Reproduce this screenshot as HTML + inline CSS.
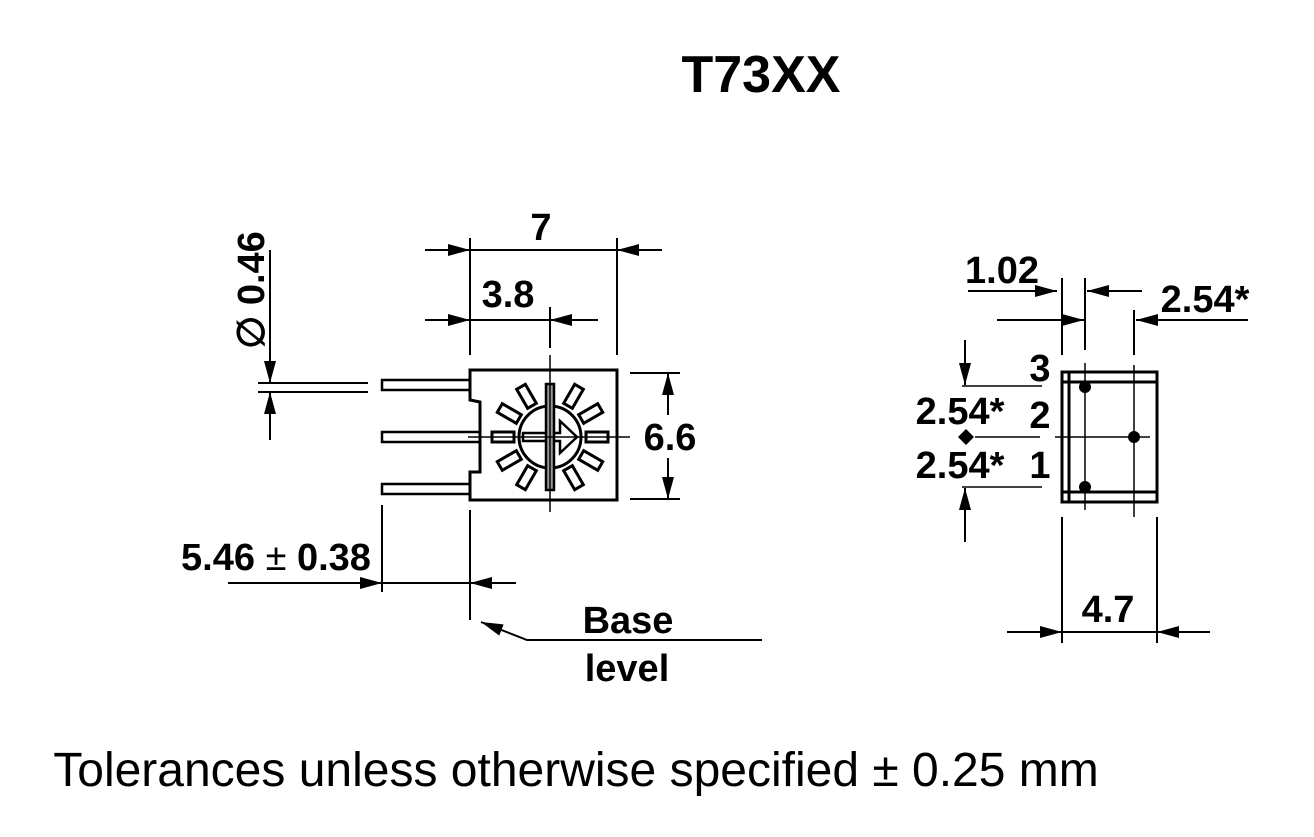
<!DOCTYPE html>
<html><head><meta charset="utf-8"><style>
html,body{margin:0;padding:0;background:#fff;}
svg{display:block;}
text{font-family:"Liberation Sans",Arial,sans-serif;fill:#000;}
.b{font-weight:bold;}
</style></head><body>
<svg width="1314" height="837" viewBox="0 0 1314 837" xmlns="http://www.w3.org/2000/svg">
<defs>
<marker id="A" viewBox="0 0 22 12" refX="22" refY="6" markerWidth="22" markerHeight="12" markerUnits="userSpaceOnUse" orient="auto"><path d="M0,0 L22,6 L0,12 z" fill="#000"/></marker>
</defs>
<text x="761" y="92" class="b" font-size="52" text-anchor="middle">T73XX</text>

<g stroke="#000" stroke-width="2" fill="none">
<line x1="470" y1="238" x2="470" y2="355"/>
<line x1="617" y1="238" x2="617" y2="355"/>
<line x1="425" y1="250" x2="470" y2="250" marker-end="url(#A)"/>
<line x1="470" y1="250" x2="617" y2="250"/>
<line x1="662" y1="250" x2="617" y2="250" marker-end="url(#A)"/>
<line x1="550" y1="307" x2="550" y2="348"/>
<line x1="425" y1="320" x2="470" y2="320" marker-end="url(#A)"/>
<line x1="470" y1="320" x2="550" y2="320"/>
<line x1="598" y1="320" x2="550" y2="320" marker-end="url(#A)"/>
<rect x="382" y="380" width="88" height="10" stroke-width="2.5"/>
<rect x="382" y="432" width="98" height="10" stroke-width="2.5"/>
<rect x="382" y="484" width="88" height="10" stroke-width="2.5"/>
<path d="M470,370 L617,370 L617,500 L470,500 L470,472 L480,472 L480,402 L470,400 Z" stroke-width="3" fill="#fff"/>
<line x1="258" y1="383" x2="368" y2="383"/>
<line x1="258" y1="392" x2="368" y2="392"/>
<line x1="270" y1="250" x2="270" y2="383" marker-end="url(#A)"/>
<line x1="270" y1="440" x2="270" y2="392" marker-end="url(#A)"/>
<line x1="630" y1="373" x2="680" y2="373"/>
<line x1="630" y1="499" x2="680" y2="499"/>
<line x1="668" y1="415" x2="668" y2="373" marker-end="url(#A)"/>
<line x1="668" y1="458" x2="668" y2="499" marker-end="url(#A)"/>
<line x1="382" y1="505" x2="382" y2="592"/>
<line x1="470" y1="510" x2="470" y2="620"/>
<line x1="228" y1="583" x2="382" y2="583" marker-end="url(#A)"/>
<line x1="382" y1="583" x2="470" y2="583"/>
<line x1="516" y1="583" x2="470" y2="583" marker-end="url(#A)"/>
<polyline points="762,640 527,640 481,622" marker-end="url(#A)"/>
</g>
<g stroke="#000" stroke-width="3" fill="#fff">
<g transform="translate(550,437)">
<rect x="36" y="-5" width="22" height="10" transform="rotate(0)"/>
<rect x="36" y="-5" width="22" height="10" transform="rotate(30)"/>
<rect x="36" y="-5" width="22" height="10" transform="rotate(60)"/>
<rect x="36" y="-5" width="22" height="10" transform="rotate(120)"/>
<rect x="36" y="-5" width="22" height="10" transform="rotate(150)"/>
<rect x="36" y="-5" width="22" height="10" transform="rotate(180)"/>
<rect x="36" y="-5" width="22" height="10" transform="rotate(210)"/>
<rect x="36" y="-5" width="22" height="10" transform="rotate(240)"/>
<rect x="36" y="-5" width="22" height="10" transform="rotate(300)"/>
<rect x="36" y="-5" width="22" height="10" transform="rotate(330)"/>
<circle r="31"/>
<path d="M-27,-4 L10,-4 L10,-16 L27,0 L10,16 L10,4 L-27,4 Z" stroke-width="2.5"/>
<rect x="-4" y="-53" width="8" height="106" fill="#999" stroke-width="2.5"/>
</g>
</g>
<g stroke="#000" stroke-width="1.5">
<line x1="550" y1="355" x2="550" y2="512"/>
<line x1="468" y1="437" x2="630" y2="437"/>
</g>

<text x="541" y="240" class="b" font-size="38" text-anchor="middle">7</text>
<text x="508" y="307" class="b" font-size="38" text-anchor="middle">3.8</text>
<text x="670" y="450" class="b" font-size="38" text-anchor="middle">6.6</text>
<text transform="translate(264,290) rotate(-90)" class="b" font-size="38" text-anchor="middle">∅ 0.46</text>
<text x="276" y="570" class="b" font-size="38" text-anchor="middle">5.46 <tspan font-weight="normal">±</tspan> 0.38</text>
<text x="628" y="633" class="b" font-size="38" text-anchor="middle">Base</text>
<text x="627" y="681" class="b" font-size="38" text-anchor="middle">level</text>

<g stroke="#000" stroke-width="2" fill="none">
<line x1="1062" y1="278" x2="1062" y2="355"/>
<line x1="1085" y1="278" x2="1085" y2="350"/>
<line x1="1134" y1="310" x2="1134" y2="355"/>
<line x1="968" y1="291" x2="1057" y2="291" marker-end="url(#A)"/>
<line x1="1142" y1="291" x2="1087" y2="291" marker-end="url(#A)"/>
<line x1="997" y1="320" x2="1084" y2="320" marker-end="url(#A)"/>
<line x1="1248" y1="320" x2="1136" y2="320" marker-end="url(#A)"/>
<rect x="1062" y="372" width="95" height="130" stroke-width="3"/>
<line x1="1062" y1="382" x2="1157" y2="382" stroke-width="3"/>
<line x1="1062" y1="492" x2="1157" y2="492" stroke-width="3"/>
<line x1="1069" y1="372" x2="1069" y2="502" stroke-width="3"/>
<line x1="1085" y1="363" x2="1085" y2="510" stroke-width="1.5"/>
<line x1="1134" y1="365" x2="1134" y2="517" stroke-width="1.5"/>
<line x1="1055" y1="437" x2="1150" y2="437" stroke-width="1.5"/>
<line x1="962" y1="386" x2="1042" y2="386" stroke-width="1.5"/>
<line x1="962" y1="487" x2="1042" y2="487" stroke-width="1.5"/>
<line x1="975" y1="437" x2="1040" y2="437" stroke-width="1.5"/>
<line x1="965" y1="340" x2="965" y2="385" marker-end="url(#A)"/>
<line x1="965" y1="542" x2="965" y2="488" marker-end="url(#A)"/>
<line x1="1062" y1="517" x2="1062" y2="643"/>
<line x1="1157" y1="517" x2="1157" y2="643"/>
<line x1="1007" y1="632" x2="1062" y2="632" marker-end="url(#A)"/>
<line x1="1062" y1="632" x2="1157" y2="632"/>
<line x1="1210" y1="632" x2="1157" y2="632" marker-end="url(#A)"/>
</g>
<g fill="#000">
<circle cx="1085" cy="387" r="6"/>
<circle cx="1085" cy="487" r="6"/>
<circle cx="1134" cy="437" r="6"/>
<path d="M966,429 L974,437 L966,445 L958,437 Z"/>
</g>
<text x="1002" y="283" class="b" font-size="38" text-anchor="middle">1.02</text>
<text x="1205" y="312" class="b" font-size="38" text-anchor="middle">2.54*</text>
<text x="1040" y="381" class="b" font-size="38" text-anchor="middle">3</text>
<text x="960" y="424" class="b" font-size="38" text-anchor="middle">2.54*</text>
<text x="1040" y="428" class="b" font-size="38" text-anchor="middle">2</text>
<text x="960" y="478" class="b" font-size="38" text-anchor="middle">2.54*</text>
<text x="1040" y="478" class="b" font-size="38" text-anchor="middle">1</text>
<text x="1108" y="622" class="b" font-size="38" text-anchor="middle">4.7</text>

<text x="576" y="786" font-size="48" text-anchor="middle">Tolerances unless otherwise specified ± 0.25 mm</text>
</svg>
</body></html>
